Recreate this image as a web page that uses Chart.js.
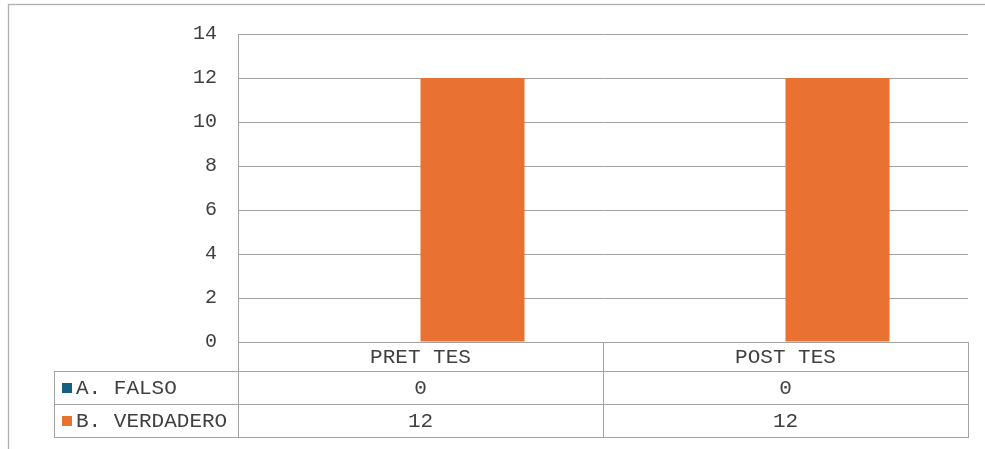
<!DOCTYPE html>
<html>
<head>
<meta charset="utf-8">
<script src="https://cdn.jsdelivr.net/npm/chart.js@4.4.1/dist/chart.umd.min.js"></script>
<style>
html,body{margin:0;padding:0;background:#fff;}
canvas{display:block;}
</style>
</head>
<body>
<canvas id="c" width="985" height="449"></canvas>
<script>
const categories = ["PRET TES", "POST TES"];
const seriesNames = ["A. FALSO", "B. VERDADERO"];
const falsoValues = [0, 0];
const verdaderoValues = [12, 12];
const yTicks = [0, 2, 4, 6, 8, 10, 12, 14];

const colors = ["#156082", "#E97132"];
const FONT = '"Liberation Mono", "Courier New", monospace';
const TXT = "#404040";
const LINE = "#a3a3a3";

const tablePlugin = {
  id: "dataTable",
  beforeDraw(chart) {
    const ctx = chart.ctx;
    ctx.save();
    ctx.strokeStyle = "#b0b0b0";
    ctx.lineWidth = 1.3;
    ctx.strokeRect(8.5, 4.5, 1100, 600);
    ctx.restore();
  },
  afterDraw(chart) {
    const ctx = chart.ctx;
    const x = chart.scales.x;
    const area = chart.chartArea;
    const left = area.left, right = area.right, bottom = area.bottom;
    const tableLeft = 54;
    const rowH = [29, 33, 33];
    const r1 = bottom + rowH[0];
    const r2 = r1 + rowH[1];
    const r3 = r2 + rowH[2];
    const n = chart.data.labels.length;
    const bounds = [];
    for (let i = 0; i < n; i++) {
      const c = x.getPixelForValue(i);
      const half = (i + 1 < n ? x.getPixelForValue(i + 1) - c : c - x.getPixelForValue(i - 1)) / 2;
      if (i === 0) bounds.push(c - half);
      bounds.push(c + half);
    }
    ctx.save();
    ctx.strokeStyle = LINE;
    ctx.lineWidth = 1;
    const hl = (x0, x1, y) => { ctx.beginPath(); ctx.moveTo(x0, Math.round(y) + 0.5); ctx.lineTo(x1, Math.round(y) + 0.5); ctx.stroke(); };
    const vl = (xx, y0, y1) => { ctx.beginPath(); ctx.moveTo(Math.round(xx) + 0.5, y0); ctx.lineTo(Math.round(xx) + 0.5, y1); ctx.stroke(); };
    hl(tableLeft, right, r1);
    hl(tableLeft, right, r2);
    hl(tableLeft, right, r3);
    vl(tableLeft, r1, r3 + 1);
    vl(left, bottom, r3 + 1);
    bounds.forEach((b, i) => { if (i > 0) vl(b, bottom, r3 + 1); });

    ctx.font = "21px " + FONT;
    ctx.fillStyle = TXT;
    ctx.textBaseline = "middle";
    ctx.textAlign = "center";
    for (let i = 0; i < n; i++) {
      const cx = x.getPixelForValue(i);
      ctx.fillText(chart.data.labels[i], cx, bottom + rowH[0] / 2 + 1);
    }
    const rowsY = [r1 + rowH[1] / 2, r2 + rowH[2] / 2];
    chart.data.datasets.forEach((ds, d) => {
      const cy = rowsY[d];
      ctx.fillStyle = ds.backgroundColor;
      ctx.fillRect(62, Math.round(cy) - 5, 10, 10);
      ctx.fillStyle = TXT;
      ctx.textAlign = "left";
      ctx.fillText(ds.label, 76, cy + 1);
      ctx.textAlign = "center";
      ds.data.forEach((v, i) => {
        ctx.fillText(String(v), x.getPixelForValue(i), cy + 1);
      });
    });
    ctx.restore();
  }
};

new Chart(document.getElementById("c"), {
  type: "bar",
  data: {
    labels: categories,
    datasets: [
      { label: seriesNames[0], data: falsoValues, backgroundColor: colors[0] },
      { label: seriesNames[1], data: verdaderoValues, backgroundColor: colors[1] }
    ]
  },
  options: {
    responsive: false,
    animation: false,
    devicePixelRatio: 1,
    layout: { padding: { top: 34, right: 17, left: 0, bottom: 0 } },
    datasets: { bar: { categoryPercentage: 0.57, barPercentage: 1 } },
    plugins: { legend: { display: false }, tooltip: { enabled: false } },
    scales: {
      x: {
        grid: { display: false, drawTicks: false },
        border: { display: true, color: LINE, width: 1 },
        ticks: { display: false },
        afterFit(s) { s.height = 107; }
      },
      y: {
        min: 0, max: 14,
        afterBuildTicks(s) { s.ticks = yTicks.map(v => ({ value: v })); },
        grid: { color: LINE, lineWidth: 1, drawTicks: false },
        border: { display: true, color: LINE, width: 1 },
        ticks: { stepSize: 2, padding: 21, color: TXT, font: { family: FONT, size: 20 } },
        afterFit(s) { s.width = 238; }
      }
    }
  },
  plugins: [tablePlugin]
});
</script>
</body>
</html>
